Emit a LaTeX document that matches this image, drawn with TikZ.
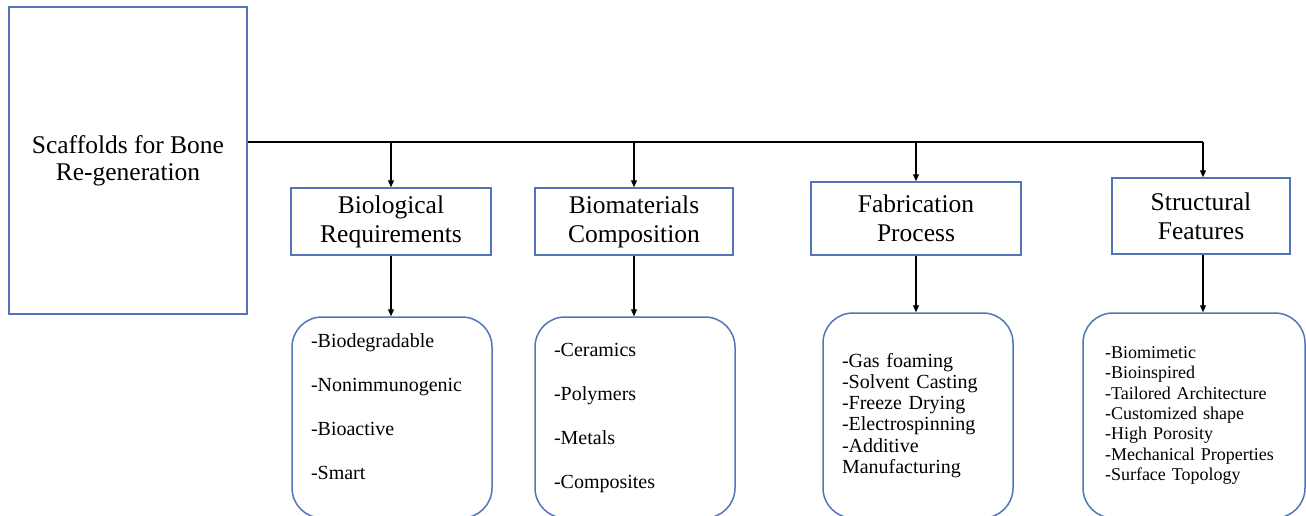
\documentclass[tikz,border=0pt]{standalone}
\usepackage{fontspec}
\setmainfont{Liberation Serif}
\usetikzlibrary{arrows.meta}
\definecolor{boxblue}{RGB}{84,116,186}

\tikzset{
  headbox/.style={draw=boxblue,line width=1.5pt,align=center,inner sep=0pt,
                  font=\fontsize{25.5}{29}\selectfont},
  listbox/.style={draw=boxblue,line width=1.5pt,rounded corners=30pt,align=left,
                  inner xsep=19pt,inner ysep=0pt},
  feed/.style={line width=1.2pt,-{Triangle[length=7pt,width=6pt]}}
}

\begin{document}
\begin{tikzpicture}[x=1pt,y=-1pt]
      \useasboundingbox (0,0) rectangle (1306,515);

      % root
      \node[draw=boxblue,line width=1.5pt,minimum width=238pt,minimum height=307pt,
            align=center,font=\fontsize{25.5}{27}\selectfont] (root) at (128,160.5)
            {Scaffolds for Bone\\Re-generation};

      % headings
      \node[headbox,minimum width=200pt,minimum height=67pt] (bio) at (391,221.5)
            {Biological\\Requirements};
      \node[headbox,minimum width=198pt,minimum height=67pt] (mat) at (634,221.5)
            {Biomaterials\\Composition};
      \node[headbox,minimum width=210pt,minimum height=73pt] (fab) at (916,218.5)
            {Fabrication\\Process};
      \node[headbox,minimum width=178pt,minimum height=76pt] (str) at (1201,216)
            {Structural\\Features};

      % lists (bottom edges run past the page)
      \node[listbox,minimum height=201pt,text width=162pt,
            font=\fontsize{20}{22}\selectfont] (bioL) at (392,417.5)
            {-Biodegradable\\[22pt]-Nonimmunogenic\\[22pt]-Bioactive\\[22pt]-Smart\\\mbox{}};
      \node[listbox,minimum height=201pt,text width=162pt,
            font=\fontsize{20}{22}\selectfont] (matL) at (635,417.5)
            {-Ceramics\\[22pt]-Polymers\\[22pt]-Metals\\[22pt]-Composites};
      \node[listbox,minimum height=205pt,text width=152pt,
            font=\fontsize{20}{21.2}\selectfont] (fabL) at (918,415.5)
            {-Gas foaming\\-Solvent Casting\\-Freeze Drying\\-Electrospinning\\-Additive\\Manufacturing};
      \node[listbox,minimum height=205pt,text width=178pt,inner xsep=22pt,
            font=\fontsize{18}{20.3}\selectfont] (strL) at (1194,415.5)
            {-Biomimetic\\-Bioinspired\\-Tailored Architecture\\-Customized shape\\-High Porosity\\-Mechanical Properties\\-Surface Topology};

      % connectors
      \coordinate (bus) at (1203,142);
      \draw[line width=1.2pt] (root.east |- bus) -- (bus);
      \draw[feed] (bus) -- (bus |- str.north);
      \draw[feed] (bio.north |- bus) -- (bio.north);
      \draw[feed] (mat.north |- bus) -- (mat.north);
      \draw[feed] (fab.north |- bus) -- (fab.north);

      \draw[feed] (bio.south) -- (bio.south |- bioL.north);
      \draw[feed] (mat.south) -- (mat.south |- matL.north);
      \draw[feed] (fab.south) -- (fab.south |- fabL.north);
      \draw[feed] (bus |- str.south) -- (bus |- strL.north);
\end{tikzpicture}
\end{document}
